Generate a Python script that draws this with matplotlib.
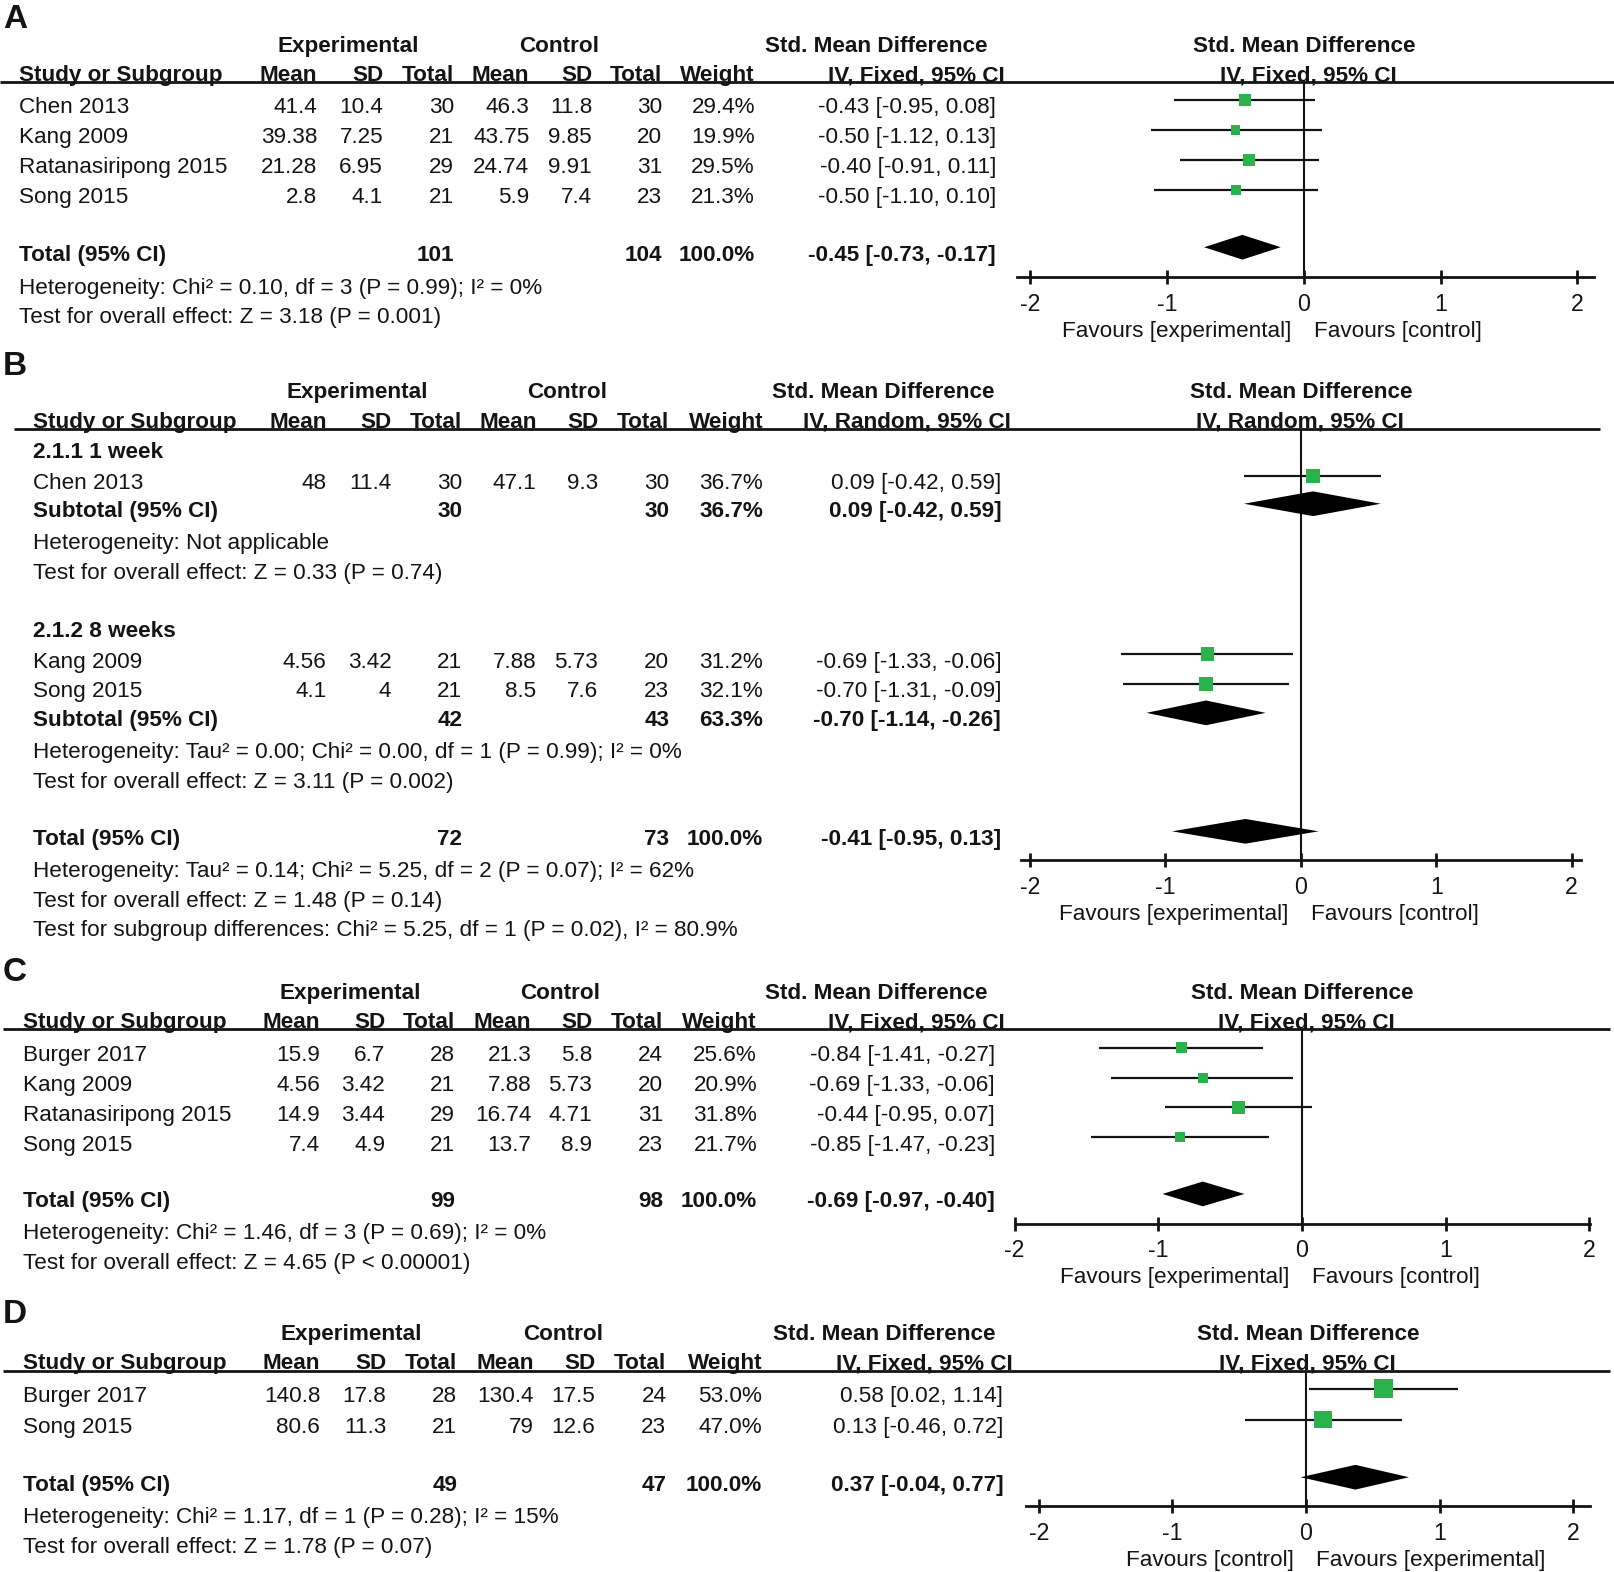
import numpy as np
import matplotlib
matplotlib.use("Agg")
from matplotlib import pyplot as plt

plt.rcParams['font.family'] = ['Liberation Sans', 'DejaVu Sans']

# ---------------- data ----------------
# A
a_study = ['Chen 2013', 'Kang 2009', 'Ratanasiripong 2015', 'Song 2015']
a_exp_mean = [41.4, 39.38, 21.28, 2.8]
a_exp_sd = [10.4, 7.25, 6.95, 4.1]
a_exp_n = [30, 21, 29, 21]
a_ctl_mean = [46.3, 43.75, 24.74, 5.9]
a_ctl_sd = [11.8, 9.85, 9.91, 7.4]
a_ctl_n = [30, 20, 31, 23]
a_weight = [29.4, 19.9, 29.5, 21.3]
a_smd = [-0.43, -0.50, -0.40, -0.50]
a_lo = [-0.95, -1.12, -0.91, -1.10]
a_hi = [0.08, 0.13, 0.11, 0.10]
a_total = [101, 104, 100.0, -0.45, -0.73, -0.17]
a_notes = ['Heterogeneity: Chi² = 0.10, df = 3 (P = 0.99); I² = 0%',
           'Test for overall effect: Z = 3.18 (P = 0.001)']

# B (two subgroups)
b_groups = ['2.1.1 1 week', '2.1.2 8 weeks']
b_study = [['Chen 2013'], ['Kang 2009', 'Song 2015']]
b_exp_mean = [[48], [4.56, 4.1]]
b_exp_sd = [[11.4], [3.42, 4]]
b_exp_n = [[30], [21, 21]]
b_ctl_mean = [[47.1], [7.88, 8.5]]
b_ctl_sd = [[9.3], [5.73, 7.6]]
b_ctl_n = [[30], [20, 23]]
b_weight = [[36.7], [31.2, 32.1]]
b_smd = [[0.09], [-0.69, -0.70]]
b_lo = [[-0.42], [-1.33, -1.31]]
b_hi = [[0.59], [-0.06, -0.09]]
b_subtotal = [[30, 30, 36.7, 0.09, -0.42, 0.59],
              [42, 43, 63.3, -0.70, -1.14, -0.26]]
b_sub_notes = [['Heterogeneity: Not applicable',
                'Test for overall effect: Z = 0.33 (P = 0.74)'],
               ['Heterogeneity: Tau² = 0.00; Chi² = 0.00, df = 1 (P = 0.99); I² = 0%',
                'Test for overall effect: Z = 3.11 (P = 0.002)']]
b_total = [72, 73, 100.0, -0.41, -0.95, 0.13]
b_notes = ['Heterogeneity: Tau² = 0.14; Chi² = 5.25, df = 2 (P = 0.07); I² = 62%',
           'Test for overall effect: Z = 1.48 (P = 0.14)',
           'Test for subgroup differences: Chi² = 5.25, df = 1 (P = 0.02), I² = 80.9%']

# C
c_study = ['Burger 2017', 'Kang 2009', 'Ratanasiripong 2015', 'Song 2015']
c_exp_mean = [15.9, 4.56, 14.9, 7.4]
c_exp_sd = [6.7, 3.42, 3.44, 4.9]
c_exp_n = [28, 21, 29, 21]
c_ctl_mean = [21.3, 7.88, 16.74, 13.7]
c_ctl_sd = [5.8, 5.73, 4.71, 8.9]
c_ctl_n = [24, 20, 31, 23]
c_weight = [25.6, 20.9, 31.8, 21.7]
c_smd = [-0.84, -0.69, -0.44, -0.85]
c_lo = [-1.41, -1.33, -0.95, -1.47]
c_hi = [-0.27, -0.06, 0.07, -0.23]
c_total = [99, 98, 100.0, -0.69, -0.97, -0.40]
c_notes = ['Heterogeneity: Chi² = 1.46, df = 3 (P = 0.69); I² = 0%',
           'Test for overall effect: Z = 4.65 (P < 0.00001)']

# D
d_study = ['Burger 2017', 'Song 2015']
d_exp_mean = [140.8, 80.6]
d_exp_sd = [17.8, 11.3]
d_exp_n = [28, 21]
d_ctl_mean = [130.4, 79]
d_ctl_sd = [17.5, 12.6]
d_ctl_n = [24, 23]
d_weight = [53.0, 47.0]
d_smd = [0.58, 0.13]
d_lo = [0.02, -0.46]
d_hi = [1.14, 0.72]
d_total = [49, 47, 100.0, 0.37, -0.04, 0.77]
d_notes = ['Heterogeneity: Chi² = 1.17, df = 1 (P = 0.28); I² = 15%',
           'Test for overall effect: Z = 1.78 (P = 0.07)']

ticks = [-2, -1, 0, 1, 2]

# ---------------- layout ----------------
W, H = 1568, 1526          # working frame, scaled onto the figure
PX = 1615 / W              # real pixels per frame unit
FS = 16.2
INK = '#141414'
GREEN = '#2cb24b'


def pt(v):
    return v * PX * 0.72


fig = plt.figure(figsize=(16.15, 15.72), dpi=100)
bg = fig.add_axes([0, 0, 1, 1])
bg.set_xlim(0, W)
bg.set_ylim(H, 0)
bg.axis('off')


def txt(x, y, s, ha='left', bold=False, size=FS):
    bg.text(x, y + 8, s, ha=ha, va='baseline', fontsize=size, color=INK,
            fontweight='bold' if bold else 'normal')


def num(v):
    return f'{v:g}'


def ci(e, l, h):
    return f'{e:.2f} [{l:.2f}, {h:.2f}]'


def header(L):
    bg.text(3, L['ly'] + 12, L['letter'], fontsize=24, fontweight='bold',
            va='baseline', color=INK)
    txt(L['exp_c'], L['h1'], 'Experimental', 'center', True)
    txt(L['ctl_c'], L['h1'], 'Control', 'center', True)
    txt(L['smd_c'], L['h1'], 'Std. Mean Difference', 'center', True)
    txt(L['f1'], L['h1'], 'Std. Mean Difference', 'center', True)
    txt(L['left'], L['h2'], 'Study or Subgroup', bold=True)
    for x, s in zip(L['cols'], ['Mean', 'SD', 'Total', 'Mean', 'SD', 'Total', 'Weight']):
        txt(x, L['h2'], s, 'right', True)
    txt(L['iv_c'], L['h2'], L['method'], 'center', True)
    txt(L['f2'], L['h2'], L['method'], 'center', True)
    bg.hlines(L['rule'], *L['rule_x'], color=INK, lw=2.0)


def study_rows(L, ys, names, em, es, en, cm, cs, cn, w, e, lo, hi):
    for i, y in enumerate(ys):
        txt(L['left'], y, names[i])
        vals = [num(em[i]), num(es[i]), num(en[i]), num(cm[i]), num(cs[i]),
                num(cn[i]), f'{w[i]:.1f}%']
        for x, s in zip(L['cols'], vals):
            txt(x, y, s, 'right')
        txt(L['ci'], y, ci(e[i], lo[i], hi[i]), 'right')


def total_row(L, y, label, tot):
    txt(L['left'], y, label, bold=True)
    txt(L['cols'][2], y, num(tot[0]), 'right', True)
    txt(L['cols'][5], y, num(tot[1]), 'right', True)
    txt(L['cols'][6], y, f'{tot[2]:.1f}%', 'right', True)
    txt(L['ci'], y, ci(*tot[3:]), 'right', True)


def forest_axes(L):
    x0, x1 = L['ax_x']
    ax = fig.add_axes([x0 / W, 0, (x1 - x0) / W, 1])
    ax.set_xlim((x0 - L['zero']) / L['unit'], (x1 - L['zero']) / L['unit'])
    ax.set_ylim(H, 0)
    ax.patch.set_visible(False)
    for s in ['top', 'right', 'left']:
        ax.spines[s].set_visible(False)
    ax.spines['bottom'].set_position(('data', L['ax_y']))
    ax.spines['bottom'].set_linewidth(2.0)
    ax.spines['bottom'].set_color(INK)
    ax.set_yticks([])
    ax.set_xticks(ticks)
    ax.set_xticklabels([str(t) for t in ticks])
    ax.tick_params(axis='x', direction='inout', length=pt(14), width=2.0,
                   labelsize=FS + 0.5, pad=6, colors=INK)
    ax.vlines(0, L['rule'], L['ax_y'], color=INK, lw=1.5, zorder=1)
    txt(L['zero'] - 12, L['fav_y'], L['fav'][0], 'right')
    txt(L['zero'] + 10, L['fav_y'], L['fav'][1], 'left')
    return ax


def squares(ax, L, ys, e, lo, hi, w):
    yy = np.asarray(ys) - 5
    ax.hlines(yy, lo, hi, color=INK, lw=1.6, zorder=2)
    side = L['k'] * np.sqrt(np.asarray(w)) * 0.72
    ax.scatter(e, yy, marker='s', s=side ** 2, color=GREEN, linewidths=0, zorder=3)


def diamond(ax, y, tot):
    e, lo, hi = tot[3:]
    y = y - 5
    ax.fill([lo, e, hi, e], [y, y - 12, y, y + 12], color='black', lw=0, zorder=3)


fav_exp = ('Favours [experimental]', 'Favours [control]')
fav_ctl = ('Favours [control]', 'Favours [experimental]')

# ---------------- panel A ----------------
LA = dict(letter='A', ly=15, h1=42, h2=71, rule=80, rule_x=(0, 1568), left=18,
          cols=[308, 372, 441, 514, 575, 643, 733], ci=967,
          exp_c=338, ctl_c=543, smd_c=851, iv_c=890, f1=1266, f2=1270,
          zero=1266, unit=132.75, ax_x=(987, 1548), ax_y=269, fav_y=319,
          k=2.15, method='IV, Fixed, 95% CI', fav=fav_exp)
header(LA)
ys = [102, 131, 160, 189]
study_rows(LA, ys, a_study, a_exp_mean, a_exp_sd, a_exp_n, a_ctl_mean, a_ctl_sd,
           a_ctl_n, a_weight, a_smd, a_lo, a_hi)
total_row(LA, 245, 'Total (95% CI)', a_total)
for y, s in zip([277, 306], a_notes):
    txt(LA['left'], y, s)
ax = forest_axes(LA)
squares(ax, LA, ys, a_smd, a_lo, a_hi, a_weight)
diamond(ax, 245, a_total)

# ---------------- panel B ----------------
LB = dict(letter='B', ly=352, h1=378, h2=407, rule=416, rule_x=(14, 1553), left=32,
          cols=[317, 380, 449, 521, 581, 650, 741], ci=972,
          exp_c=347, ctl_c=551, smd_c=858, iv_c=881, f1=1263, f2=1262,
          zero=1263, unit=131.5, ax_x=(991, 1535), ax_y=835, fav_y=885,
          k=2.4, method='IV, Random, 95% CI', fav=fav_exp)
header(LB)
ax = forest_axes(LB)
b_rows_y = [[467], [640, 669]]
b_head_y = [437, 610]
b_sub_y = [494, 697]
b_note_y = [[525, 554], [728, 757]]
for g in range(2):
    txt(LB['left'], b_head_y[g], b_groups[g], bold=True)
    study_rows(LB, b_rows_y[g], b_study[g], b_exp_mean[g], b_exp_sd[g], b_exp_n[g],
               b_ctl_mean[g], b_ctl_sd[g], b_ctl_n[g], b_weight[g], b_smd[g],
               b_lo[g], b_hi[g])
    squares(ax, LB, b_rows_y[g], b_smd[g], b_lo[g], b_hi[g], b_weight[g])
    total_row(LB, b_sub_y[g], 'Subtotal (95% CI)', b_subtotal[g])
    diamond(ax, b_sub_y[g], b_subtotal[g])
    for y, s in zip(b_note_y[g], b_sub_notes[g]):
        txt(LB['left'], y, s)
total_row(LB, 812, 'Total (95% CI)', b_total)
diamond(ax, 812, b_total)
for y, s in zip([843, 872, 901], b_notes):
    txt(LB['left'], y, s)

# ---------------- panel C ----------------
LC = dict(letter='C', ly=940, h1=962, h2=990, rule=999, rule_x=(3, 1563), left=22,
          cols=[311, 374, 442, 516, 575, 644, 735], ci=966,
          exp_c=340, ctl_c=544, smd_c=851, iv_c=890, f1=1264, f2=1268,
          zero=1264, unit=139.5, ax_x=(985, 1544), ax_y=1188, fav_y=1237,
          k=2.2, method='IV, Fixed, 95% CI', fav=fav_exp)
header(LC)
ys = [1022, 1051, 1080, 1109]
study_rows(LC, ys, c_study, c_exp_mean, c_exp_sd, c_exp_n, c_ctl_mean, c_ctl_sd,
           c_ctl_n, c_weight, c_smd, c_lo, c_hi)
total_row(LC, 1164, 'Total (95% CI)', c_total)
for y, s in zip([1195, 1224], c_notes):
    txt(LC['left'], y, s)
ax = forest_axes(LC)
squares(ax, LC, ys, c_smd, c_lo, c_hi, c_weight)
diamond(ax, 1164, c_total)

# ---------------- panel D ----------------
LD = dict(letter='D', ly=1272, h1=1293, h2=1321, rule=1331, rule_x=(3, 1563), left=22,
          cols=[311, 375, 444, 518, 578, 647, 740], ci=974,
          exp_c=341, ctl_c=547, smd_c=859, iv_c=897, f1=1270, f2=1269,
          zero=1268, unit=129.75, ax_x=(996, 1544), ax_y=1462, fav_y=1512,
          k=2.6, method='IV, Fixed, 95% CI', fav=fav_ctl)
header(LD)
ys = [1353, 1383]
study_rows(LD, ys, d_study, d_exp_mean, d_exp_sd, d_exp_n, d_ctl_mean, d_ctl_sd,
           d_ctl_n, d_weight, d_smd, d_lo, d_hi)
total_row(LD, 1439, 'Total (95% CI)', d_total)
for y, s in zip([1470, 1500], d_notes):
    txt(LD['left'], y, s)
ax = forest_axes(LD)
squares(ax, LD, ys, d_smd, d_lo, d_hi, d_weight)
diamond(ax, 1439, d_total)

fig.savefig('out.png', dpi=100)
plt.close(fig)
